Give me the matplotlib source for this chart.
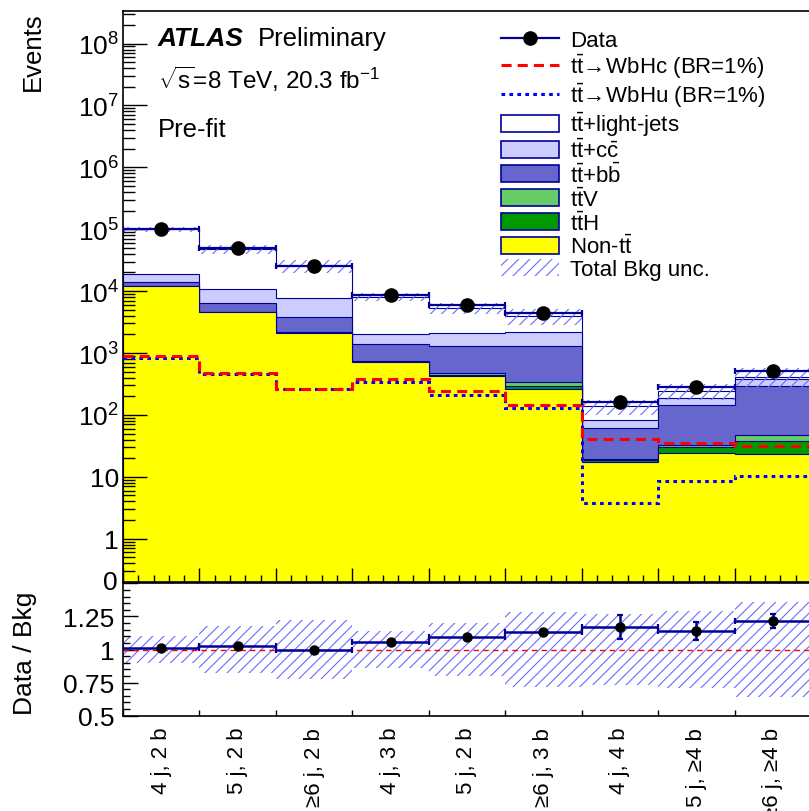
import numpy as np
import matplotlib.pyplot as plt
from matplotlib.patches import Patch
from matplotlib.lines import Line2D
from matplotlib.ticker import FixedLocator, LogLocator, NullFormatter, MultipleLocator, AutoMinorLocator

plt.rcParams['font.family'] = ['Liberation Sans', 'DejaVu Sans']
plt.rcParams['mathtext.fontset'] = 'custom'
plt.rcParams['mathtext.rm'] = 'Liberation Sans'
plt.rcParams['mathtext.it'] = 'Liberation Sans:italic'
plt.rcParams['mathtext.bf'] = 'Liberation Sans:bold'
plt.rcParams['hatch.linewidth'] = 0.8

# categories (analysis regions)
categories = ['4 j, 2 b', '5 j, 2 b', '≥6 j, 2 b', '4 j, 3 b', '5 j, 2 b',
              '≥6 j, 3 b', '4 j, 4 b', '5 j, ≥4 b', '≥6 j, ≥4 b']

# background components (events per region)
non_tt = [12200, 4540, 2080, 708, 420, 259, 17.1, 23.9, 23.4]
tth = [30, 40, 45, 20, 25, 36, 1.6, 6.1, 15.0]
ttv = [50, 50, 55, 25, 25, 41, 1.0, 2.7, 8.9]
ttbb = [1920, 1720, 1600, 647, 840, 974, 41.7, 113, 243]
ttcc = [4700, 4350, 3880, 650, 770, 850, 22.2, 42, 85]
ttlight = [80100, 37200, 17940, 6060, 3310, 1820, 53.4, 58, 40]
bkg_unc = [0.10, 0.18, 0.225, 0.14, 0.20, 0.28, 0.27, 0.29, 0.355]

# signals (BR = 1%)
wbhc = [885, 479, 262, 380, 240, 145, 40.8, 34.8, 31.8]
wbhu = [840, 462, 258, 336, 212, 131, 3.77, 8.45, 10.2]

# data
data = [1.0e5, 4.93e4, 2.55e4, 8.6e3, 5.9e3, 4.5e3, 160, 280, 505]
data_err = [316, 222, 160, 93, 77, 67, 12.6, 16.7, 22.5]

navy = '#000099'
hatch_col = '#6b6bff'
comp_vals = [non_tt, tth, ttv, ttbb, ttcc, ttlight]
comp_cols = ['#ffff00', '#009900', '#66cc66', '#6666cc', '#ccccff', '#ffffff']

n = len(categories)
edges = np.arange(n + 1)
centers = edges[:-1] + 0.5
stack = np.cumsum(np.array(comp_vals, dtype=float), axis=0)
total = stack[-1]
unc = np.array(bkg_unc)

W, H = 809, 812
fig = plt.figure(figsize=(W / 100, H / 100), dpi=100)
ax = fig.add_axes([123 / W, 1 - 582.7 / H, 688 / W, 571 / H])
rax = fig.add_axes([123 / W, 1 - 716.7 / H, 688 / W, 132.4 / H])

# ---- top panel ----
for i in reversed(range(len(comp_vals))):
    ax.stairs(stack[i], edges, baseline=1e-3, fill=True, facecolor=comp_cols[i],
              edgecolor=navy, linewidth=0.8, zorder=1)
ax.stairs(total * (1 + unc), edges, baseline=total * (1 - unc), fill=True,
          facecolor='none', edgecolor=hatch_col, hatch='///', linewidth=0, zorder=2)
ax.stairs(wbhu, edges, baseline=None, color='blue', linestyle=(0, (1.2, 1.4)),
          linewidth=2.2, zorder=3)
ax.stairs(wbhc, edges, baseline=None, color='red', linestyle=(0, (3.3, 2.0)),
          linewidth=2.2, zorder=3)
ax.errorbar(centers, data, xerr=0.5, yerr=data_err, fmt='o', ms=9.5, mfc='k', mec='k',
            ecolor=navy, elinewidth=1.6, capsize=2.2, capthick=1.6, zorder=4)

ax.set_yscale('log')
ax.set_xlim(0, n)
ax.set_ylim(0.202, 3.39e8)
ax.yaxis.set_major_locator(FixedLocator([10.0 ** k for k in range(0, 9)]))
ax.set_yticklabels(['1', '10'] + [r'$10^{%d}$' % k for k in range(2, 9)])
ax.yaxis.set_minor_locator(LogLocator(base=10, subs=np.arange(2, 10), numticks=20))
ax.yaxis.set_minor_formatter(NullFormatter())
ax.xaxis.set_major_locator(MultipleLocator(1))
ax.xaxis.set_minor_locator(AutoMinorLocator(5))
ax.tick_params(axis='x', which='both', direction='in', top=False, labelbottom=False)
ax.tick_params(axis='x', which='major', length=10, width=1)
ax.tick_params(axis='x', which='minor', length=5, width=1)
ax.tick_params(axis='y', which='both', direction='in', right=False, labelsize=19, pad=3)
ax.tick_params(axis='y', which='major', length=17, width=1)
ax.tick_params(axis='y', which='minor', length=8.5, width=1)
ax.text(-0.008, 0.0, '0', transform=ax.transAxes, ha='right', va='center', fontsize=19)
for s in ax.spines.values():
    s.set_linewidth(1.2)

fig.text(158 / W, 1 - 45.7 / H, 'ATLAS', fontsize=19, fontweight='bold', fontstyle='italic')
fig.text(258 / W, 1 - 45.7 / H, 'Preliminary', fontsize=18.5)
fig.text(158 / W, 1 - 89 / H, r'$\sqrt{\mathrm{s}}$=8 TeV, 20.3 fb$^{-1}$', fontsize=17.5)
fig.text(158 / W, 1 - 137 / H, 'Pre-fit', fontsize=18.5)
fig.text(32.5 / W, 1 - 12 / H, 'Events', rotation=90, ha='center', va='top', fontsize=18.5)

handles = [
    Line2D([], [], color=navy, lw=1.6, marker='o', ms=9.5, mfc='k', mec='k'),
    Line2D([], [], color='red', lw=2.2, linestyle=(0, (3.3, 2.0))),
    Line2D([], [], color='blue', lw=2.2, linestyle=(0, (1.2, 1.4))),
]
for c in reversed(comp_cols):
    handles.append(Patch(facecolor=c, edgecolor=navy, linewidth=1.2))
handles.append(Patch(facecolor='none', edgecolor=hatch_col, hatch='///', linewidth=0))
labels = ['Data', r'$\mathrm{t\bar{t}}\!\rightarrow\!$WbHc (BR=1%)',
          r'$\mathrm{t\bar{t}}\!\rightarrow\!$WbHu (BR=1%)',
          r'$\mathrm{t\bar{t}}$+light-jets', r'$\mathrm{t\bar{t}}$+$\mathrm{c\bar{c}}$',
          r'$\mathrm{t\bar{t}}$+$\mathrm{b\bar{b}}$', r'$\mathrm{t\bar{t}}$V',
          r'$\mathrm{t\bar{t}}$H', r'Non-$\mathrm{t\bar{t}}$', 'Total Bkg unc.']
fig.legend(handles, labels, loc='upper left', bbox_to_anchor=(501 / W, 1 - 31 / H),
           frameon=False, fontsize=16, borderpad=0, borderaxespad=0,
           handlelength=2.6, handleheight=0.8, handletextpad=0.5, labelspacing=0.03)

# ---- ratio panel ----
ratio = np.array(data) / total
ratio_err = np.array(data_err) / total
rax.stairs(1 + unc, edges, baseline=1 - unc, fill=True, facecolor='none',
           edgecolor=hatch_col, hatch='///', linewidth=0, zorder=1)
rax.axhline(1, color='red', linestyle=(0, (4, 3)), linewidth=1.0, zorder=2)
rax.errorbar(centers, ratio, xerr=0.5, yerr=ratio_err, fmt='o', ms=6.5, mfc='k', mec='k',
             ecolor=navy, elinewidth=1.8, capsize=2.2, capthick=1.6, zorder=3)
rax.set_xlim(0, n)
rax.set_ylim(0.5, 1.5)
rax.set_xticks(centers)
rax.set_xticklabels(categories, rotation=90, fontsize=16, va='top', ha='center')
rax.xaxis.set_minor_locator(FixedLocator(edges))
rax.tick_params(axis='x', which='major', length=0, pad=8)
rax.tick_params(axis='x', which='minor', direction='in', length=4, width=1, top=False)
rax.set_yticks([0.5, 0.75, 1.0, 1.25, 1.5])
rax.set_yticklabels(['0.5', '0.75', '1', '1.25', ''])
rax.yaxis.set_minor_locator(MultipleLocator(0.05))
rax.tick_params(axis='y', which='both', direction='in', right=False, labelsize=19, pad=6)
rax.tick_params(axis='y', which='major', length=11, width=1)
rax.tick_params(axis='y', which='minor', length=5, width=1)
for s in rax.spines.values():
    s.set_linewidth(1.2)
fig.text(25 / W, 1 - 653 / H, 'Data / Bkg', rotation=90, ha='center', va='center', fontsize=19)

fig.savefig('out.png', dpi=100)
